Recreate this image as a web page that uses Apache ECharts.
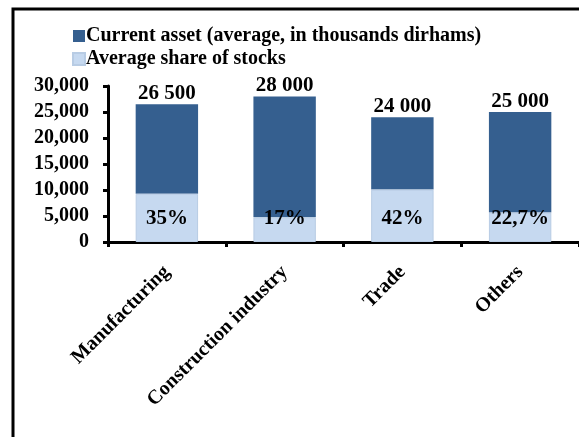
<!DOCTYPE html>
<html>
<head>
<meta charset="utf-8">
<script src="https://cdn.jsdelivr.net/npm/echarts@6/dist/echarts.min.js"></script>
<style>
  html, body { margin: 0; padding: 0; background: #fff; }
  #chart { width: 579px; height: 437px; }
</style>
</head>
<body>
<div id="chart"></div>
<script>
// data
var categories = ['Manufacturing', 'Construction industry', 'Trade', 'Others'];
var totals = [26500, 28000, 24000, 25000];
var totalLabels = ['26 500', '28 000', '24 000', '25 000'];
var shares = [35, 17, 42, 22.7];
var shareLabels = ['35%', '17%', '42%', '22,7%'];
var yTicks = [0, 5000, 10000, 15000, 20000, 25000, 30000];

// stocks part = total * share, rest on top
var stockPart = totals.map(function (t, i) { return Math.round(t * shares[i] / 100); });
var restPart = totals.map(function (t, i) { return t - stockPart[i]; });

var font = 'Liberation Serif, Times New Roman, serif';

var chart = echarts.init(document.getElementById('chart'), null, { renderer: 'canvas' });

var option = {
  animation: false,
  legend: {
    orient: 'vertical',
    left: 67,
    top: 21,
    icon: 'rect',
    itemWidth: 12,
    itemHeight: 12,
    itemGap: 3,
    data: ['Current asset (average, in thousands dirhams)', 'Average share of stocks'],
    textStyle: { fontFamily: font, fontWeight: 'bold', fontSize: 20, color: '#000', padding: [0, 0, 0, -4] }
  },
  grid: {
    left: 108,
    right: 0,
    top: 86,
    bottom: 195,
    containLabel: false
  },
  xAxis: {
    type: 'category',
    data: categories,
    axisLine: { lineStyle: { color: '#000', width: 3 } },
    axisTick: { show: true, length: 5, lineStyle: { color: '#000', width: 3 } },
    axisLabel: {
      rotate: 45,
      interval: 0,
      margin: 27,
      fontFamily: font,
      fontWeight: 'bold',
      fontSize: 20,
      color: '#000'
    }
  },
  yAxis: {
    type: 'value',
    min: yTicks[0],
    max: yTicks[yTicks.length - 1],
    interval: 5000,
    splitLine: { show: false },
    axisLine: { show: true, lineStyle: { color: '#000', width: 3 } },
    axisTick: { show: true, length: 5, lineStyle: { color: '#000', width: 3 } },
    axisLabel: {
      margin: 19,
      fontFamily: font,
      fontWeight: 'bold',
      fontSize: 20,
      color: '#000',
      formatter: function (v) {
        return v === 0 ? '0' : v.toLocaleString('en-US');
      }
    }
  },
  series: [
    {
      name: 'Average share of stocks',
      type: 'bar',
      stack: 'total',
      barWidth: '53%',
      data: stockPart,
      itemStyle: { color: '#c6d9f0', borderColor: '#b8cce4', borderWidth: 1 },
      label: {
        show: true,
        position: 'insideBottom',
        distance: 13,
        formatter: function (p) { return shareLabels[p.dataIndex]; },
        fontFamily: font,
        fontWeight: 'bold',
        fontSize: 21,
        color: '#000'
      },
      z: 3
    },
    {
      name: 'Current asset (average, in thousands dirhams)',
      type: 'bar',
      stack: 'total',
      barWidth: '53%',
      data: restPart,
      itemStyle: { color: '#355f8f' },
      label: {
        show: true,
        position: 'top',
        distance: 0,
        formatter: function (p) { return totalLabels[p.dataIndex]; },
        fontFamily: font,
        fontWeight: 'bold',
        fontSize: 21,
        color: '#000'
      },
      z: 2
    }
  ],
  graphic: [
    {
      type: 'polyline',
      shape: { points: [[13, 437], [13, 9], [579, 9]] },
      style: { stroke: '#000', lineWidth: 3, fill: null },
      silent: true
    }
  ]
};

chart.setOption(option);
</script>
</body>
</html>
